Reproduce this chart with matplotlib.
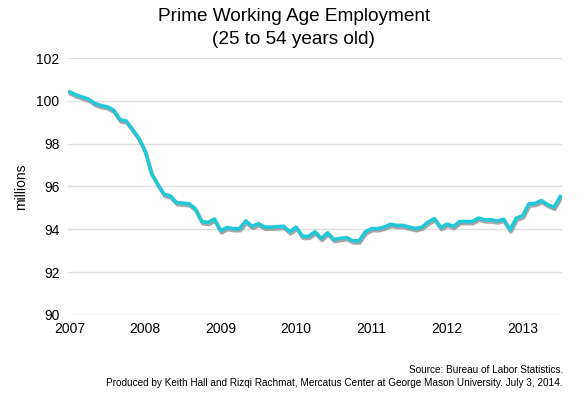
import matplotlib as mpl
mpl.use("Agg")
import matplotlib.pyplot as plt
import matplotlib.patheffects as pe

plt.rcParams['font.family'] = ['Liberation Sans', 'DejaVu Sans']

# monthly prime-age (25-54) employment, millions, Jan 2007 onward
employment = [
    100.42, 100.28, 100.18, 100.08, 99.88, 99.78, 99.72, 99.56, 99.12, 99.06,
    98.66, 98.25, 97.65, 96.62, 96.10, 95.64, 95.56, 95.24, 95.22, 95.19,
    94.95, 94.36, 94.32, 94.48, 93.93, 94.08, 94.03, 94.03, 94.39, 94.14,
    94.26, 94.10, 94.10, 94.12, 94.14, 93.88, 94.10, 93.67, 93.67, 93.88,
    93.57, 93.83, 93.52, 93.57, 93.61, 93.46, 93.46, 93.88, 94.03, 94.03,
    94.10, 94.23, 94.18, 94.18, 94.10, 94.03, 94.10, 94.34, 94.50, 94.08,
    94.24, 94.13, 94.36, 94.36, 94.36, 94.52, 94.44, 94.44, 94.39, 94.47,
    93.97, 94.52, 94.63, 95.18, 95.21, 95.34, 95.15, 95.03, 95.53,
]
years = ['2007', '2008', '2009', '2010', '2011', '2012', '2013']
y_ticks = [90, 92, 94, 96, 98, 100, 102]

months = list(range(len(employment)))

fig = plt.figure(figsize=(5.85, 3.98), dpi=100)
ax = fig.add_axes([0.116, 0.209, 0.845, 0.645])

ax.plot(months, employment, color='#22c8d8', lw=2.6, solid_joinstyle='round',
        path_effects=[pe.SimpleLineShadow(offset=(0.6, -1.5), shadow_color='#888888', alpha=0.75),
                      pe.Normal()])

ax.set_ylim(90, 102)
ax.set_xlim(-0.3, len(employment) - 0.7)
ax.set_yticks(y_ticks)
ax.set_xticks([12 * i for i in range(len(years))])
ax.set_xticklabels(years)
ax.grid(axis='y', color='#dedede', lw=1)
ax.set_axisbelow(True)
for s in ax.spines.values():
    s.set_visible(False)
ax.tick_params(length=0, labelsize=10, pad=6)
ax.tick_params(axis='x', pad=5)
ax.set_ylabel('millions', fontsize=10, labelpad=6)

fig.text(0.502, 0.98, 'Prime Working Age Employment\n(25 to 54 years old)',
         ha='center', va='top', fontsize=13.7, linespacing=1.45)
fig.text(0.962, 0.070, 'Source: Bureau of Labor Statistics.', ha='right', va='center', fontsize=7.2)
fig.text(0.962, 0.037, 'Produced by Keith Hall and Rizqi Rachmat, Mercatus Center at George Mason University. July 3, 2014.',
         ha='right', va='center', fontsize=7.2)

plt.savefig('out.png')
